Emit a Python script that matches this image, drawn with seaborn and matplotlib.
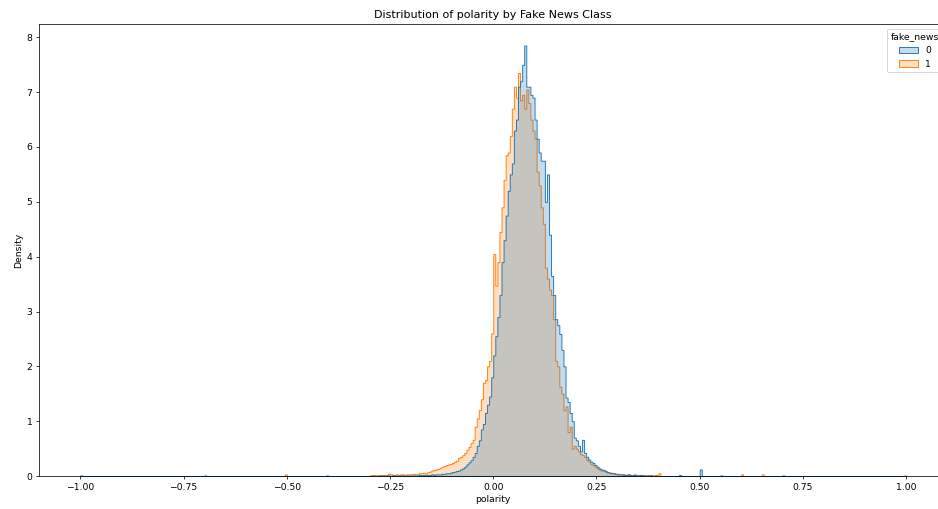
import numpy as np
import pandas as pd
import seaborn as sns
import matplotlib
matplotlib.use("Agg")
import matplotlib.pyplot as plt

# ---- data (densities, bins of width 0.005) ----
bin_start = -0.30
bin_width = 0.005

density_0 = [
    0.00, 0.01, 0.00, 0.00, 0.01, 0.00, 0.01, 0.00, 0.01, 0.01, 0.00, 0.01, 0.01, 0.00, 0.01, 0.01, 0.01, 0.00, 0.01, 0.01,
    0.01, 0.01, 0.01, 0.01, 0.02, 0.01, 0.02, 0.02, 0.02, 0.02, 0.03, 0.02, 0.03, 0.03, 0.03, 0.04, 0.04, 0.05, 0.05, 0.06,
    0.07, 0.08, 0.09, 0.10, 0.12, 0.14, 0.17, 0.21, 0.25, 0.29, 0.35, 0.42, 0.55, 0.65, 0.85, 0.95, 1.15, 1.30, 1.45, 1.80,
    2.20, 2.55, 2.90, 3.30, 3.90, 4.30, 4.75, 5.20, 5.50, 5.70, 6.30, 6.50, 7.10, 7.20, 7.50, 7.85, 7.10, 7.10, 6.95, 6.90,
    6.50, 6.15, 5.90, 5.75, 5.75, 5.00, 5.50, 4.40, 3.65, 3.30, 2.86, 2.75, 2.59, 2.30, 2.00, 1.43, 1.35, 1.15, 1.00, 0.70,
    0.65, 0.55, 0.45, 0.66, 0.42, 0.35, 0.30, 0.26, 0.24, 0.20, 0.17, 0.14, 0.12, 0.11, 0.09, 0.07, 0.06, 0.05, 0.05, 0.04,
    0.03, 0.03, 0.03, 0.02, 0.02, 0.03, 0.02, 0.01, 0.02, 0.01, 0.01, 0.02, 0.01, 0.01, 0.00, 0.01, 0.01, 0.00, 0.01, 0.00,
]

density_1 = [
    0.01, 0.01, 0.02, 0.01, 0.01, 0.02, 0.01, 0.02, 0.02, 0.01, 0.03, 0.02, 0.02, 0.03, 0.02, 0.03, 0.03, 0.02, 0.03, 0.03,
    0.03, 0.04, 0.03, 0.04, 0.05, 0.05, 0.06, 0.05, 0.07, 0.08, 0.10, 0.11, 0.12, 0.13, 0.15, 0.17, 0.18, 0.20, 0.21, 0.22,
    0.24, 0.26, 0.28, 0.33, 0.35, 0.38, 0.42, 0.48, 0.53, 0.60, 0.66, 0.90, 1.05, 1.20, 1.40, 1.70, 1.75, 2.00, 2.10, 2.60,
    4.05, 3.47, 3.90, 4.45, 4.90, 5.40, 5.85, 5.90, 6.20, 6.70, 7.10, 6.90, 7.35, 6.85, 6.95, 6.70, 7.05, 6.80, 6.50, 6.30,
    6.15, 5.55, 5.30, 4.90, 4.60, 3.80, 3.60, 3.40, 3.30, 2.86, 2.10, 2.00, 1.63, 1.50, 1.20, 1.27, 0.80, 0.90, 0.50, 0.55,
    0.50, 0.45, 0.40, 0.38, 0.35, 0.30, 0.26, 0.22, 0.20, 0.17, 0.14, 0.12, 0.10, 0.10, 0.08, 0.07, 0.06, 0.06, 0.05, 0.04,
    0.04, 0.03, 0.03, 0.03, 0.02, 0.03, 0.02, 0.02, 0.03, 0.02, 0.02, 0.01, 0.02, 0.01, 0.02, 0.01, 0.02, 0.01, 0.01, 0.02,
]

# sparse outlier bins (bin centres) and their densities
outlier_x_0 = [-0.9975, -0.6975, -0.4025, 0.4525, 0.5025, 0.5525, 0.7025]
outlier_d_0 = [0.01, 0.01, 0.01, 0.02, 0.12, 0.01, 0.01]
outlier_x_1 = [-0.5025, -0.2525, 0.4025, 0.6025, 0.6525, 0.9975]
outlier_d_1 = [0.03, 0.03, 0.05, 0.03, 0.03, 0.01]

hue_levels = [0, 1]

# ---- build table ----
centers = bin_start + bin_width * (np.arange(len(density_0)) + 0.5)
frames = []
for lvl, dens, ox, od in [(0, density_0, outlier_x_0, outlier_d_0),
                          (1, density_1, outlier_x_1, outlier_d_1)]:
    xs = np.concatenate([centers, ox])
    ws = np.concatenate([dens, od])
    frames.append(pd.DataFrame({"polarity": xs, "fake_news": lvl, "w": ws}))
df = pd.concat(frames, ignore_index=True)

# ---- plot ----
DPI = 67
fig = plt.figure(figsize=(938 / DPI, 509 / DPI), dpi=DPI)
ax = fig.add_axes([0.0416, 0.0648, 0.9685, 0.888])

sns.histplot(data=df, x="polarity", hue="fake_news", hue_order=hue_levels,
             weights="w", bins=400, binrange=(-1.0, 1.0), element="step",
             stat="count", common_norm=False, ax=ax)

ax.set_ylabel("Density")
ax.set_xlabel("polarity")
ax.set_title("Distribution of polarity by Fake News Class")
sns.move_legend(ax, "upper right")

fig.savefig("out.png", dpi=DPI)
